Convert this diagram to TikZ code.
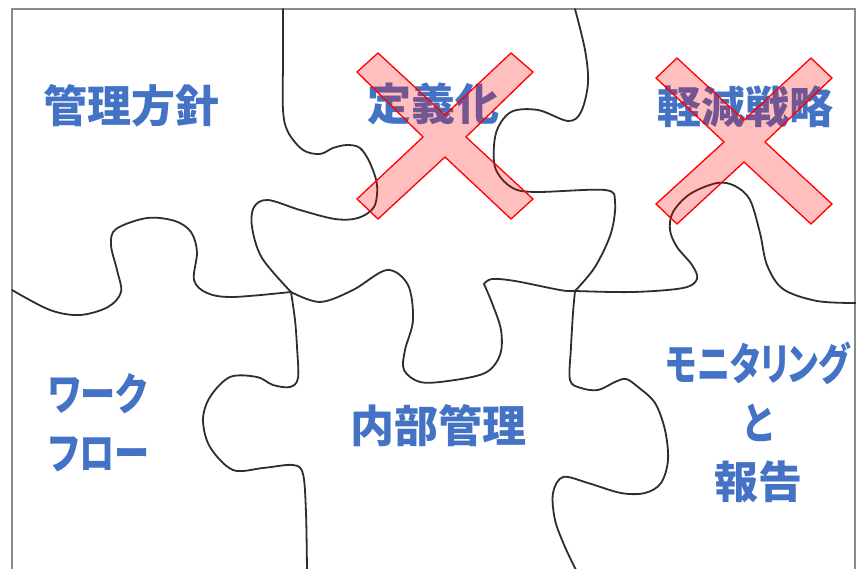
\documentclass[tikz,border=0pt]{standalone}
\usepackage{fontspec}
\setmainfont{Noto Sans CJK JP}[RawFeature=+palt]
\newfontfamily\kanafont{Noto Sans CJK JP}[RawFeature=+palt, FakeStretch=0.8]
\newfontfamily\kananarrow{Noto Sans CJK JP}[RawFeature=+palt, FakeStretch=0.75]
\definecolor{txtblue}{HTML}{4472C4}
\definecolor{framegray}{HTML}{8A8A8A}
\definecolor{edge}{HTML}{2E2E2E}
\tikzset{
  cut/.style={draw=edge, line width=1.8pt, line cap=round, line join=round},
  lbl/.style={text=txtblue, font=\fontsize{44}{59}\selectfont\bfseries, inner sep=0pt},
  kanalbl/.style={text=txtblue, font=\fontsize{44}{59}\selectfont\kanafont\bfseries, inner sep=0pt},
  cross/.style={draw=red, line width=1.3pt, fill=red, fill opacity=0.25, line join=miter}
}
\begin{document}
\begin{tikzpicture}[x=1pt, y=-1pt]
\useasboundingbox (0,0) rectangle (856,569);
\clip (0,0) rectangle (856,569);
\fill[white] (0,0) rectangle (856,569);
% frame
\draw[framegray, line width=2.5pt] (12,9) rectangle (855,580);
% cut lines
\draw[cut] plot[smooth, tension=0.55] coordinates {(283,9) (283,60) (283,110) (288,132) (303,150) (320,154) (333,148) (347,145) (360,148) (370,163) (377,185) (374,207) (358,218) (335,219) (300,210) (268,200) (254,207) (252,227) (262,258) (291,292)};
\draw[cut] plot[smooth, tension=0.55] coordinates {(12,290) (50,310) (80,315) (108,307) (121,292) (117,270) (111,245) (116,229) (147,218) (175,221) (191,232) (197,252) (194,280) (207,293) (233,297) (291,292)};
\draw[cut] plot[smooth, tension=0.55] coordinates {(291,292) (320,302) (353,290) (387,270) (408,285) (413,320) (405,350) (404,370) (420,382) (448,381) (485,373) (500,355) (501,330) (492,303) (484,284)};
\draw[cut] plot[smooth, tension=0.55] coordinates {(484,284) (492,279) (515,281) (560,290) (575,291) (633,292) (683,288) (697,279) (692,265) (677,247) (670,230) (673,212) (690,194) (717,183) (735,186) (750,200) (760,233) (767,265) (783,289) (817,301) (856,303)};
\draw[cut] plot[smooth, tension=0.55] coordinates {(291,292) (295,320) (297,347) (298,378) (290,387) (273,385) (257,377) (230,377) (210,397) (203,420) (210,447) (233,470) (263,468) (293,465) (303,474) (306,513) (307,572)};
\draw[cut] plot[smooth, tension=0.55] coordinates {(575,9) (585,50) (588,83) (581,112) (568,121) (538,110) (511,112) (496,133) (495,167) (511,187) (535,192) (605,190) (615,202) (611,233) (595,267) (575,291)};
\draw[cut] plot[smooth, tension=0.55] coordinates {(575,291) (573,313) (571,347) (570,380) (581,388) (598,390) (615,382) (626,379) (638,387) (655,403) (665,430) (668,460) (661,483) (645,493) (621,493) (588,483) (563,477) (553,493) (555,520) (565,547) (577,572)};
% labels
\node[lbl] (t1) at (131,106) {管理方針};
\node[lbl] (t2) at (433,104) {定義化};
\node[lbl] (t3) at (745,107) {軽減戦略};
\node[kanalbl, align=left, anchor=west] (t4) at (48,423) {ワーク\\フロー};
\node[lbl] (t5) at (438,426) {内部管理};
\node[kanalbl, align=center] (t6) at (758,422) {{\kananarrow\bfseries モニタリング}\\と\\{\fontsize{44}{59}\selectfont\rmfamily\bfseries 報告}};
% crosses
\draw[cross] (378,53) -- (445,115) -- (511,53) -- (533,72) -- (466,137) -- (533,199) -- (511,219) -- (445,157) -- (378,219) -- (357,199) -- (423,137) -- (357,72) -- cycle;
\draw[cross] (677,58) -- (744,120) -- (811,58) -- (832,78) -- (765,142) -- (832,204) -- (811,224) -- (744,162) -- (677,224) -- (656,204) -- (724,142) -- (656,78) -- cycle;
\end{tikzpicture}
\end{document}
